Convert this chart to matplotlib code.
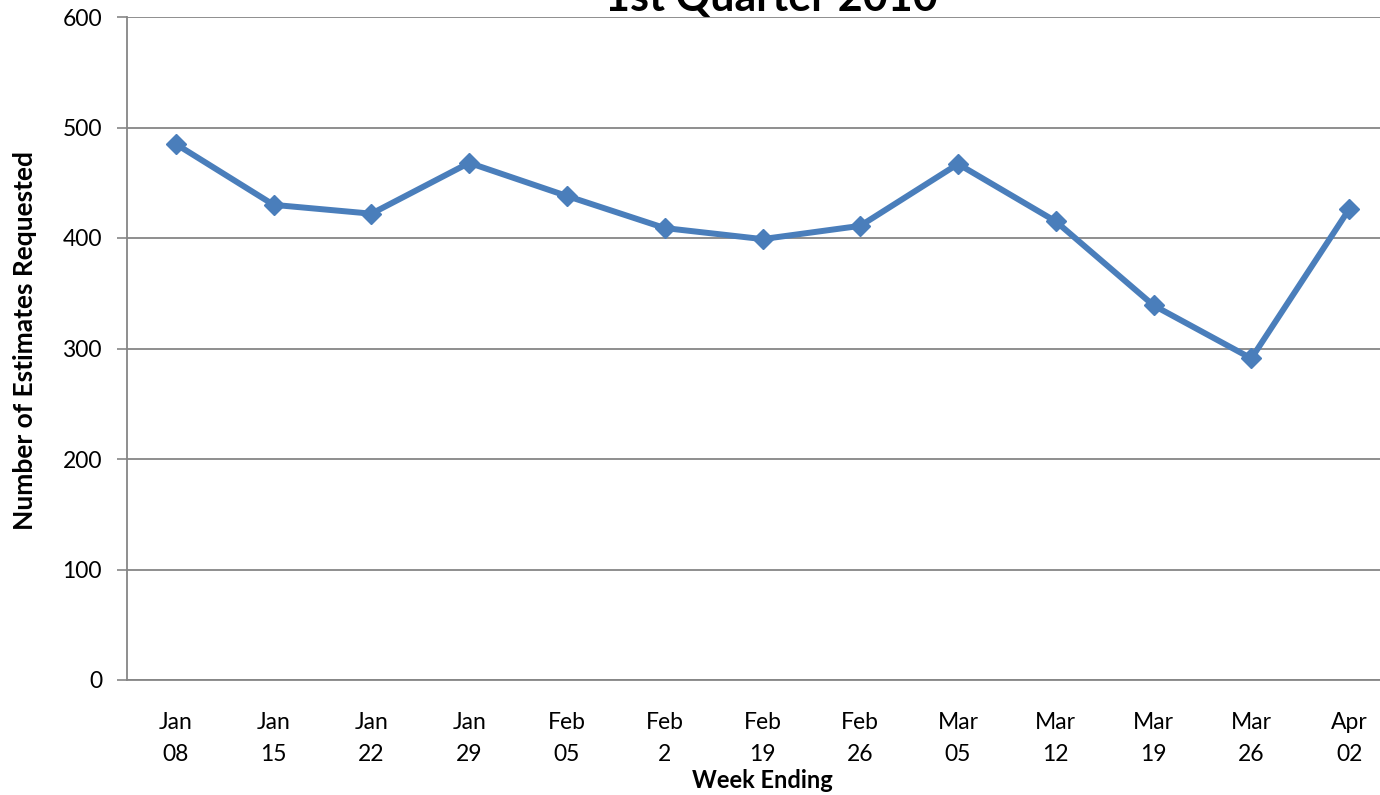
import matplotlib
matplotlib.use("Agg")
import matplotlib.pyplot as plt

plt.rcParams['font.family'] = ['Lato', 'DejaVu Sans']

categories = ["Jan\n08", "Jan\n15", "Jan\n22", "Jan\n29", "Feb\n05", "Feb\n2", "Feb\n19",
              "Feb\n26", "Mar\n05", "Mar\n12", "Mar\n19", "Mar\n26", "Apr\n02"]
values = [485, 430, 422, 468, 438, 409, 399, 411, 467, 415, 339, 291, 426]
yticks = [0, 100, 200, 300, 400, 500, 600]

fig = plt.figure(figsize=(13.8, 7.95), dpi=100)
ax = fig.add_axes([127/1380, 1 - 680/795, (1398 - 127)/1380, (680 - 17)/795])

x = list(range(len(categories)))
ax.plot(x, values, color='#4a7ebb', linewidth=4.3, marker='D', markersize=10,
        markerfacecolor='#4a7ebb', markeredgecolor='#4a7ebb', solid_joinstyle='round',
        zorder=3, clip_on=False)

ax.set_xlim(-0.5, len(categories) - 0.5)
ax.set_ylim(0, 600)
ax.set_yticks(yticks)
ax.set_yticklabels([str(v) for v in yticks], fontsize=16.5)
ax.set_xticks(x)
ax.set_xticklabels(categories, fontsize=16.5, linespacing=1.65)
ax.tick_params(axis='x', length=0, pad=23)
ax.tick_params(axis='y', length=7, width=1.2, color='#868686', pad=11)

ax.grid(axis='y', color='#868686', linewidth=1.3)
ax.set_axisbelow(True)
for s in ['top', 'right']:
    ax.spines[s].set_visible(False)
for s in ['left', 'bottom']:
    ax.spines[s].set_color('#868686')
    ax.spines[s].set_linewidth(1.3)

fig.text(25/1380, 1 - 341/795, "Number of Estimates Requested", fontsize=19,
         fontweight='bold', rotation=90, ha='center', va='center')
fig.text(762/1380, 1 - 781/795, "Week Ending", fontsize=17, fontweight='bold',
         ha='center', va='center')
fig.text(771/1380, 1 - 11/795, "1st Quarter 2010", fontsize=31, fontweight='bold',
         ha='center', va='baseline')

fig.savefig("out.png", dpi=100)
